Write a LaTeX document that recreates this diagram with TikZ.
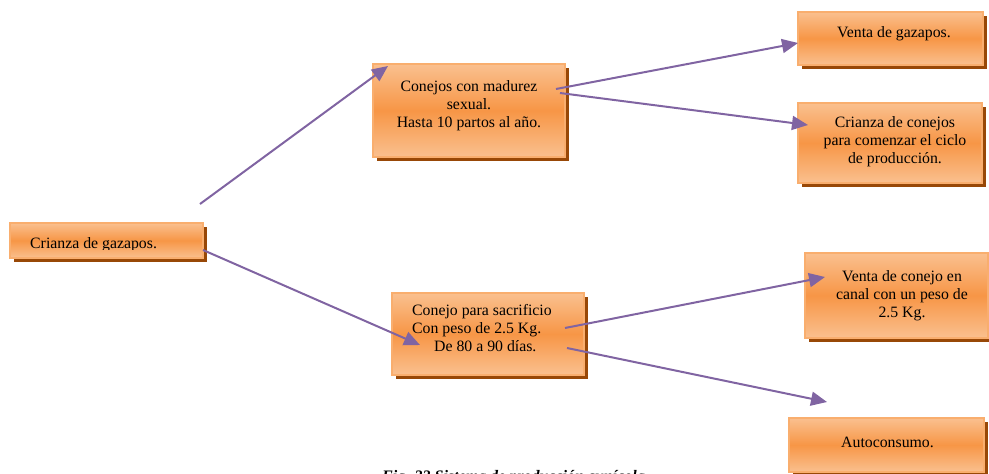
\documentclass[tikz,border=0pt]{standalone}
\usepackage{fontspec}
\setmainfont{Liberation Serif}
\usetikzlibrary{arrows.meta,shadows}
\definecolor{boxtop}{HTML}{FAC08F}
\definecolor{boxmid}{HTML}{F79646}
\definecolor{boxedge}{HTML}{F9AE6E}
\definecolor{boxshadow}{HTML}{984807}
\definecolor{arrowpurple}{HTML}{8064A2}
\tikzset{
  orangebox/.style={draw=boxedge, line width=1.6pt, inner sep=0pt,
    top color=boxtop, bottom color=boxtop, middle color=boxmid,
    general shadow={fill=boxshadow, shadow xshift=3.5pt, shadow yshift=-4pt}},
  boxtext/.style={font=\fontsize{15.8}{18}\selectfont, align=center, inner sep=0pt},
  flow/.style={draw=arrowpurple, line width=2pt, -{Triangle[length=16pt,width=14pt]}}
}
\begin{document}
\begin{tikzpicture}[x=1pt,y=-1pt]
\useasboundingbox (0,0) rectangle (989,474);
% boxes
\node[orangebox, minimum width=193pt, minimum height=35pt] (b1) at (106.5,240.5) {};
\begin{scope}
\clip (10,223) rectangle (203,249);
\node[boxtext, anchor=base west] (t1) at (30,248) {Crianza de gazapos.};
\end{scope}
\node[orangebox, minimum width=192pt, minimum height=93pt] (b2) at (469,110.5) {};
\node[boxtext] (t2) at (469,106) {Conejos con madurez\\sexual.\\Hasta 10 partos al año.};
\node[orangebox, minimum width=192pt, minimum height=82pt] (b3) at (488,334) {};
\node[boxtext, align=left, anchor=north west] (t3) at (412,304) {Conejo para sacrificio\\Con peso de 2.5 Kg.\\\hspace*{22pt}De 80 a 90 días.};
\node[orangebox, minimum width=185pt, minimum height=53pt] (b4) at (890.5,38.5) {};
\node[boxtext] (t4) at (894,34) {Venta de gazapos.};
\node[orangebox, minimum width=184pt, minimum height=80pt] (b5) at (890,143) {};
\node[boxtext] (t5) at (895,142) {Crianza de conejos\\para comenzar el ciclo\\de producción.};
\node[orangebox, minimum width=183pt, minimum height=85pt] (b6) at (896.5,295.5) {};
\node[boxtext] (t6) at (902,296) {Venta de conejo en\\canal con un peso de\\2.5 Kg.};
\node[orangebox, minimum width=195pt, minimum height=54pt] (b7) at (886.5,445) {};
\node[boxtext] (t7) at (887.5,442) {Autoconsumo.};
% caption (cut off by the page edge, as in the original)
\node[anchor=base west, inner sep=0pt, font=\fontsize{16}{18}\selectfont\bfseries\itshape] (cap) at (382,481) {Fig. 33 Sistema de producción cunícola};
% arrow ends
\coordinate (s1) at (200,204);  \coordinate (e1) at (388,66);
\coordinate (s2) at (203,250);  \coordinate (e2) at (420,345);
\coordinate (s3) at (556,89);   \coordinate (e3) at (798,43);
\coordinate (s4) at (560,93);   \coordinate (e4) at (808,125);
\coordinate (s5) at (565,328);  \coordinate (e5) at (825,277);
\coordinate (s6) at (567,348);  \coordinate (e6) at (827,402);
\draw[flow] (s1) -- (e1);
\draw[flow] (s2) -- (e2);
\draw[flow] (s3) -- (e3);
\draw[flow] (s4) -- (e4);
\draw[flow] (s5) -- (e5);
\draw[flow] (s6) -- (e6);
\end{tikzpicture}
\end{document}
